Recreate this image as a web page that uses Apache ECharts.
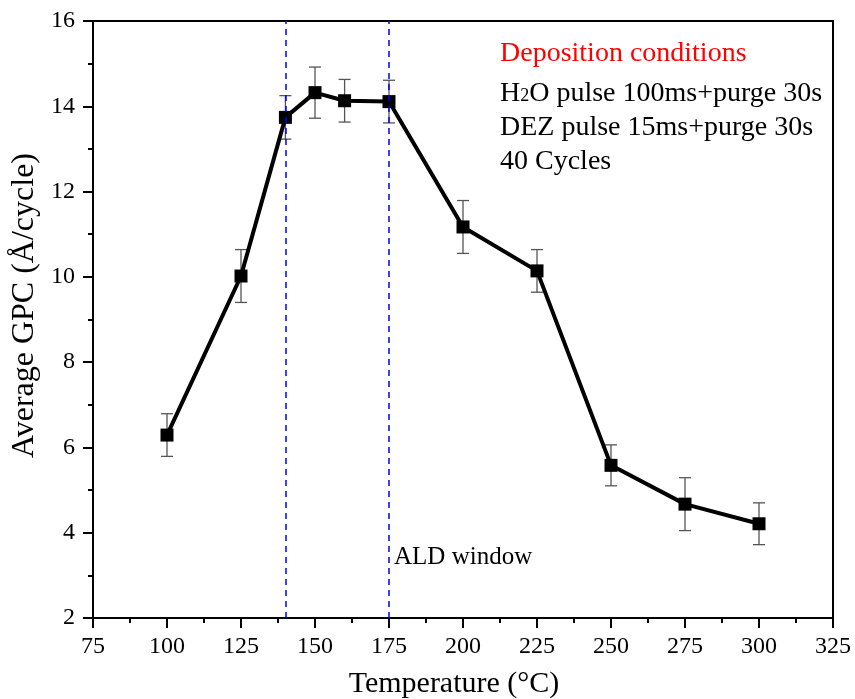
<!DOCTYPE html>
<html><head><meta charset="utf-8">
<script src="https://cdn.jsdelivr.net/npm/echarts@6/dist/echarts.min.js"></script>
<style>html,body{margin:0;padding:0;background:#fff}#c{width:855px;height:699px}</style>
</head><body><div id="c"></div>
<script>
var temperatures = [100, 125, 140, 150, 160, 175, 200, 225, 250, 275, 300];
var gpc = [6.29, 10.02, 13.74, 14.32, 14.13, 14.11, 11.17, 10.14, 5.58, 4.67, 4.21];
var gpcError = [0.5, 0.62, 0.51, 0.6, 0.5, 0.5, 0.62, 0.5, 0.48, 0.62, 0.49];
var windowLines = [140, 175];
var xTicks = [75, 325, 25];
var yTicks = [2, 16, 2];

var F = '"Liberation Serif","DejaVu Serif",serif';
var chart = echarts.init(document.getElementById('c'));
var mainData = temperatures.map(function(t, i){ return [t, gpc[i]]; });
var errData = temperatures.map(function(t, i){ return [t, gpc[i] - gpcError[i], gpc[i] + gpcError[i]]; });

chart.setOption({
  animation: false,
  grid: {left: 93, right: 22, top: 21, bottom: 81, containLabel: false, outerBoundsMode: 'none',
         show: true, borderColor: '#000', borderWidth: 2},
  xAxis: {
    type: 'value', min: xTicks[0], max: xTicks[1], interval: xTicks[2],
    name: 'Temperature (°C)', nameLocation: 'middle', nameGap: 51,
    nameTextStyle: {fontFamily: F, fontSize: 30, color: '#000', padding: [0, 18, 0, 0]},
    axisLine: {show: true, onZero: false, lineStyle: {color: '#000', width: 2}},
    axisTick: {show: true, inside: false, length: 10, lineStyle: {color: '#000', width: 2}},
    minorTick: {show: true, splitNumber: 2, length: 5, lineStyle: {color: '#000', width: 2}},
    axisLabel: {fontFamily: F, fontSize: 24, color: '#000', margin: 17, hideOverlap: false},
    splitLine: {show: false}
  },
  yAxis: {
    type: 'value', min: yTicks[0], max: yTicks[1], interval: yTicks[2],
    name: 'Average GPC (Å/cycle)', nameLocation: 'middle', nameGap: 49,
    nameTextStyle: {fontFamily: F, fontSize: 32, color: '#000', padding: [0, 0, 0, 28]},
    axisLine: {show: true, onZero: false, lineStyle: {color: '#000', width: 2}},
    axisTick: {show: true, inside: false, length: 10, lineStyle: {color: '#000', width: 2}},
    minorTick: {show: true, splitNumber: 2, length: 5, lineStyle: {color: '#000', width: 2}},
    axisLabel: {fontFamily: F, fontSize: 24, color: '#000', margin: 18},
    splitLine: {show: false}
  },
  series: [
    {
      type: 'custom', z: 2,
      data: errData,
      renderItem: function(params, api){
        var x = api.value(0);
        var lo = api.coord([x, api.value(1)]);
        var hi = api.coord([x, api.value(2)]);
        var w = 6;
        var st = {stroke: '#555', lineWidth: 1.3};
        return {type: 'group', children: [
          {type: 'line', shape: {x1: lo[0], y1: lo[1], x2: hi[0], y2: hi[1]}, style: st},
          {type: 'line', shape: {x1: lo[0]-w, y1: lo[1], x2: lo[0]+w, y2: lo[1]}, style: st},
          {type: 'line', shape: {x1: hi[0]-w, y1: hi[1], x2: hi[0]+w, y2: hi[1]}, style: st}
        ]};
      }
    },
    {
      type: 'line', z: 3,
      data: mainData,
      symbol: 'rect', symbolSize: 13,
      lineStyle: {color: '#000', width: 4},
      itemStyle: {color: '#000'},
      markLine: {
        silent: true, symbol: 'none',
        label: {show: false},
        lineStyle: {color: '#0000ff', type: [6, 5], width: 1.5},
        data: windowLines.map(function(v){ return {xAxis: v}; })
      }
    }
  ],
  graphic: [
    {type: 'text', left: 500, top: 40, style: {text: 'Deposition conditions', font: '28px ' + F, fill: '#ff0000'}},
    {type: 'text', left: 500, top: 80, style: {
      text: '{n|H}{s|2}{n|O pulse 100ms+purge 30s}',
      rich: {n: {font: '28px ' + F, fill: '#000', verticalAlign: 'bottom'}, s: {font: '18px ' + F, fill: '#000', verticalAlign: 'bottom', padding: [0,0,3,0]}}
    }},
    {type: 'text', left: 500, top: 114, style: {text: 'DEZ pulse 15ms+purge 30s', font: '28px ' + F, fill: '#000'}},
    {type: 'text', left: 500, top: 148, style: {text: '40 Cycles', font: '28px ' + F, fill: '#000'}},
    {type: 'text', left: 394, top: 545, style: {text: 'ALD window', font: '25px ' + F, fill: '#000'}}
  ]
});
</script></body></html>
